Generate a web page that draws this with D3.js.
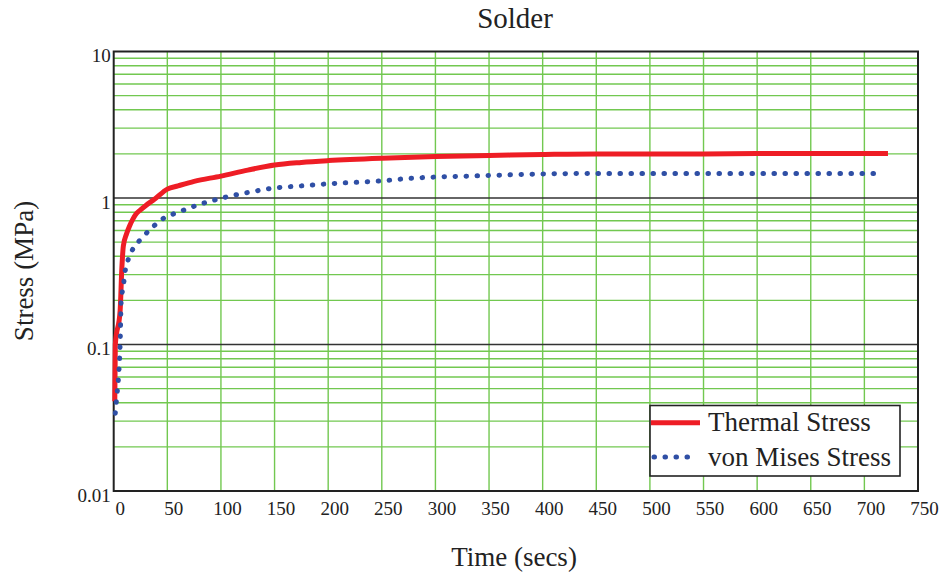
<!DOCTYPE html>
<html><head><meta charset="utf-8">
<script src="https://cdn.jsdelivr.net/npm/d3@7"></script>
<style>body{margin:0;background:#fff;}text{font-family:"Liberation Serif","Times New Roman",serif;}</style>
</head><body><svg id="c" width="946" height="581"></svg>
<script>
const title = "Solder";
const xLabel = "Time (secs)";
const yLabel = "Stress (MPa)";
const xTicks = [0,50,100,150,200,250,300,350,400,450,500,550,600,650,700,750];
const yTicks = [0.01,0.1,1,10];
const yTickLabels = ["0.01","0.1","1","10"];
const thermalTime = [1,1.5,6,7.5,9,12,15,18,21,25,30,38,50,60,75,100,125,150,175,200,250,300,350,400,450,500,550,600,650,722];
const thermalStress = [0.041,0.1,0.17,0.32,0.47,0.57,0.65,0.72,0.78,0.83,0.89,0.98,1.15,1.21,1.3,1.41,1.55,1.68,1.75,1.8,1.87,1.92,1.95,1.98,2.0,2.0,2.0,2.01,2.01,2.01];
const vonTime = [1.5,3,4.5,6,7,9,10.5,13.5,18,26,36,47,58,68,79,90,101,111,125,150,175,200,250,275,300,330,370,400,450,500,550,600,650,715];
const vonStress = [0.034,0.045,0.06,0.1,0.2,0.25,0.31,0.38,0.45,0.53,0.63,0.73,0.79,0.84,0.9,0.95,1.0,1.04,1.09,1.17,1.21,1.25,1.31,1.36,1.39,1.41,1.44,1.46,1.47,1.47,1.47,1.47,1.47,1.47];
const seriesNames = ["Thermal Stress","von Mises Stress"];

const svg = d3.select("#c");
const L=113.7, R=918, T=51.5, B=491;
const x = d3.scaleLinear().domain([0,750]).range([L,R]);
const y = d3.scaleLog().domain([0.01,10]).range([B,T]);
const green="#72c850";

// minor horizontal grid
const minor=[];
[0.01,0.1,1].forEach(d=>{for(let k=2;k<=9;k++) minor.push(d*k);});
svg.append("g").selectAll("line").data(minor).join("line")
  .attr("x1",L).attr("x2",R).attr("y1",d=>y(d)).attr("y2",d=>y(d))
  .attr("stroke",green).attr("stroke-width",1.4);
// vertical grid
svg.append("g").selectAll("line").data(xTicks.filter(d=>d>0&&d<750)).join("line")
  .attr("x1",d=>x(d)).attr("x2",d=>x(d)).attr("y1",T).attr("y2",B)
  .attr("stroke",green).attr("stroke-width",1.4);
// major
svg.append("g").selectAll("line").data([0.1,1]).join("line")
  .attr("x1",L).attr("x2",R).attr("y1",d=>y(d)).attr("y2",d=>y(d))
  .attr("stroke","#333").attr("stroke-width",1.6);
// border
svg.append("rect").attr("x",L).attr("y",T).attr("width",R-L).attr("height",B-T)
  .attr("fill","none").attr("stroke","#222").attr("stroke-width",2);

// axes labels via d3 axes
const xAxis = svg.append("g").attr("transform",`translate(6,${B})`)
  .call(d3.axisBottom(x).tickValues(xTicks).tickSize(0).tickPadding(11).tickFormat(d3.format("d")));
xAxis.select(".domain").remove();
xAxis.selectAll("text").attr("font-size",19).attr("font-family","Liberation Serif").attr("fill","#222");
const yAxis = svg.append("g").attr("transform",`translate(${L-3},4)`)
  .call(d3.axisLeft(y).tickValues(yTicks).tickSize(0).tickPadding(0).tickFormat((d,i)=>yTickLabels[i]));
yAxis.select(".domain").remove();
yAxis.selectAll("text").attr("font-size",19).attr("font-family","Liberation Serif").attr("fill","#222");

// lines
const line = d3.line().x(d=>x(d[0])).y(d=>y(d[1])).curve(d3.curveMonotoneX);
svg.append("path").datum(d3.zip(thermalTime,thermalStress)).attr("d",line)
  .attr("fill","none").attr("stroke","#ee1d25").attr("stroke-width",5).attr("stroke-linejoin","round");
svg.append("path").datum(d3.zip(vonTime,vonStress)).attr("d",line)
  .attr("fill","none").attr("stroke","#2f4fa5").attr("stroke-width",5)
  .attr("stroke-dasharray","0.5,10.5").attr("stroke-linecap","round");

// title & axis titles
svg.append("text").attr("x",515).attr("y",28).attr("text-anchor","middle").attr("font-size",29).attr("fill","#222").text(title);
svg.append("text").attr("x",514).attr("y",566).attr("text-anchor","middle").attr("font-size",27).attr("fill","#222").text(xLabel);
svg.append("text").attr("transform","translate(33,271) rotate(-90)").attr("text-anchor","middle").attr("font-size",27).attr("fill","#222").text(yLabel);

// legend
const lg = svg.append("g");
lg.append("rect").attr("x",650).attr("y",405.5).attr("width",250).attr("height",70.5).attr("fill","#fff").attr("stroke","#222").attr("stroke-width",1.6);
lg.append("line").attr("x1",651).attr("x2",700).attr("y1",422.7).attr("y2",422.7).attr("stroke","#ee1d25").attr("stroke-width",5);
lg.append("line").attr("x1",654).attr("x2",693).attr("y1",457).attr("y2",457).attr("stroke","#2f4fa5").attr("stroke-width",5).attr("stroke-dasharray","0.5,10.5").attr("stroke-linecap","round");
lg.selectAll("text.l").data(seriesNames).join("text").attr("class","l")
  .attr("x",708).attr("y",(d,i)=>431+i*34.5).attr("font-size",27).attr("fill","#222").text(d=>d);
</script></body></html>
